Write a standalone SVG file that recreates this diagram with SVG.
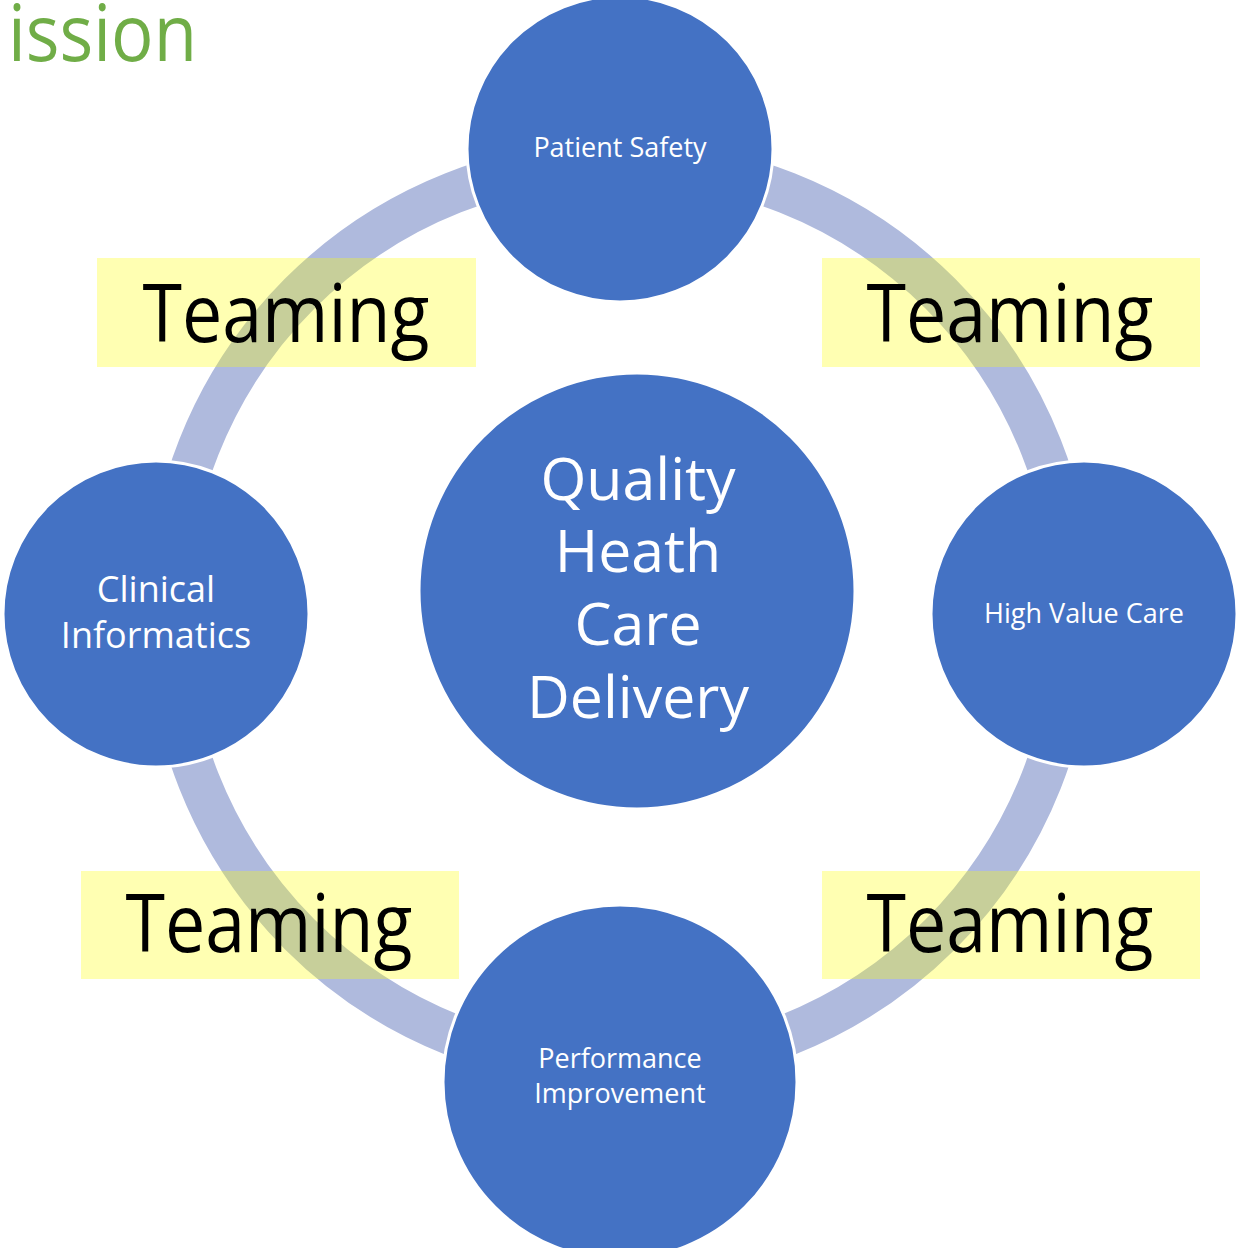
<svg xmlns="http://www.w3.org/2000/svg" width="1237" height="1248" viewBox="0 0 1237 1248">
  <style>
    .node { fill: #4472C4; stroke: #FFFFFF; stroke-width: 3; }
    .ring { fill: none; stroke: #AFBADD; stroke-width: 42; }
    .hl { fill: #FFFF00; fill-opacity: 0.3; }
    .team { font-family: "Open Sans", "Noto Sans", sans-serif; font-size: 80px; fill: #000000; text-anchor: middle; }
    .lbl { font-family: "Open Sans", "Noto Sans", sans-serif; fill: #FFFFFF; text-anchor: middle; }
    .title { font-family: "Open Sans", "Noto Sans", sans-serif; font-size: 78px; fill: #70AD47; }
  </style>
  <rect width="1237" height="1248" fill="#FFFFFF"/>

  <text class="title" x="8" y="61" textLength="189" lengthAdjust="spacingAndGlyphs">ission</text>

  <!-- connecting ring -->
  <g id="connectors">
    <circle class="ring" cx="620" cy="614" r="453"/>
  </g>

  <!-- highlighted labels between the nodes -->
  <g id="teaming-top-left">
    <rect class="hl" x="97" y="258" width="379" height="109"/>
    <text class="team" x="286" y="342" textLength="287" lengthAdjust="spacingAndGlyphs">Teaming</text>
  </g>
  <g id="teaming-top-right">
    <rect class="hl" x="822" y="258" width="378" height="109"/>
    <text class="team" x="1010" y="342" textLength="287" lengthAdjust="spacingAndGlyphs">Teaming</text>
  </g>
  <g id="teaming-bottom-left">
    <rect class="hl" x="81" y="871" width="378" height="108"/>
    <text class="team" x="269" y="952" textLength="287" lengthAdjust="spacingAndGlyphs">Teaming</text>
  </g>
  <g id="teaming-bottom-right">
    <rect class="hl" x="822" y="871" width="378" height="108"/>
    <text class="team" x="1010" y="952" textLength="287" lengthAdjust="spacingAndGlyphs">Teaming</text>
  </g>

  <!-- nodes -->
  <g id="node-center">
    <circle class="node" cx="637" cy="591" r="218"/>
    <text class="lbl" font-size="59" x="638" y="500">Quality</text>
    <text class="lbl" font-size="59" x="638" y="572">Heath</text>
    <text class="lbl" font-size="59" x="638" y="645">Care</text>
    <text class="lbl" font-size="59" x="638" y="718">Delivery</text>
  </g>
  <g id="node-patient-safety">
    <circle class="node" cx="620" cy="149" r="153"/>
    <text class="lbl" font-size="27" x="620" y="157">Patient Safety</text>
  </g>
  <g id="node-high-value-care">
    <circle class="node" cx="1084" cy="614" r="153"/>
    <text class="lbl" font-size="27" x="1084" y="623">High Value Care</text>
  </g>
  <g id="node-clinical-informatics">
    <circle class="node" cx="156" cy="614" r="153"/>
    <text class="lbl" font-size="36" x="156" y="602">Clinical</text>
    <text class="lbl" font-size="36" x="156" y="648">Informatics</text>
  </g>
  <g id="node-performance-improvement">
    <circle class="node" cx="620" cy="1082" r="177"/>
    <text class="lbl" font-size="27" x="620" y="1068">Performance</text>
    <text class="lbl" font-size="27" x="620" y="1103">Improvement</text>
  </g>
</svg>
